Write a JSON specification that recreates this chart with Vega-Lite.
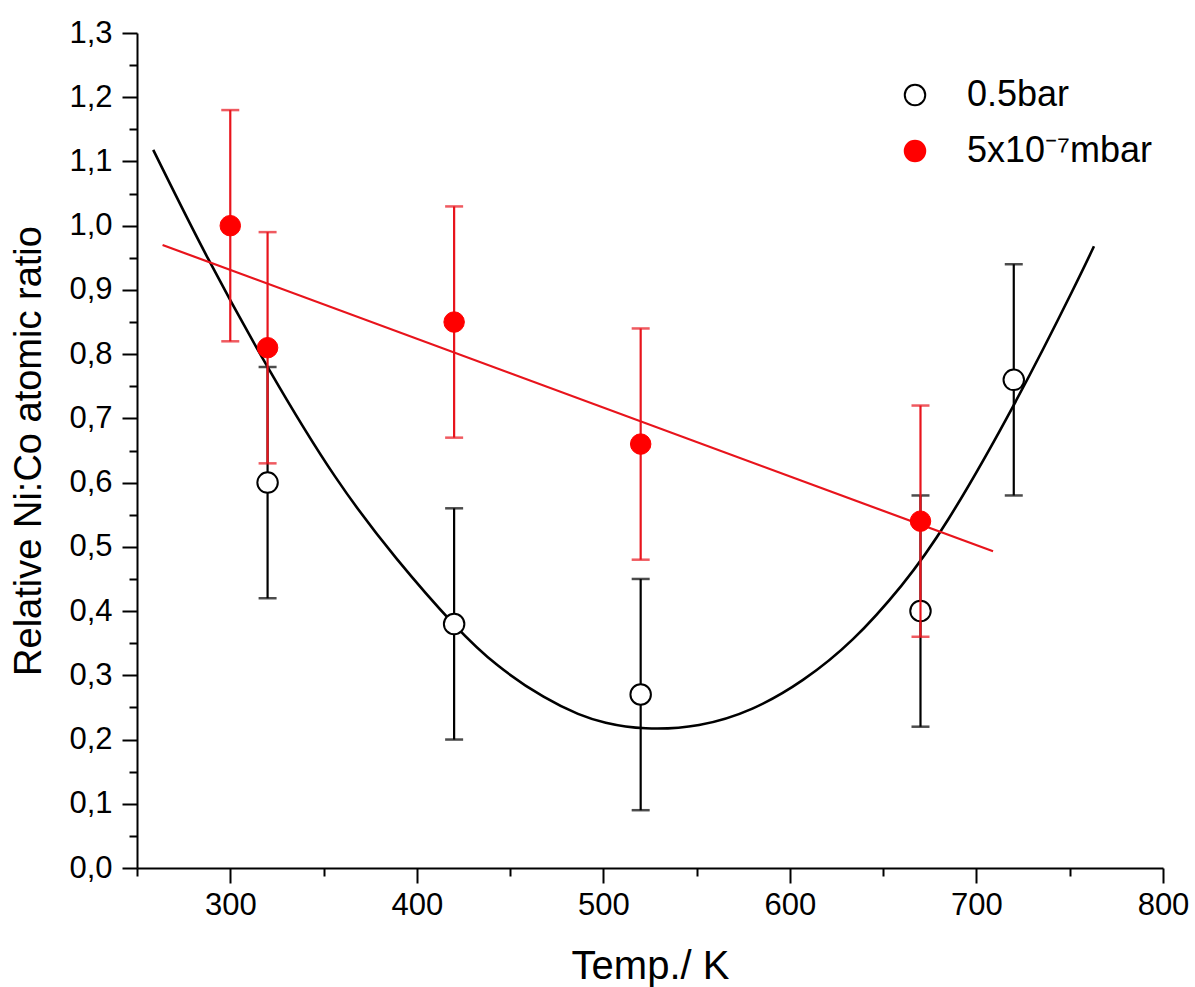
{
  "$schema": "https://vega.github.io/schema/vega-lite/v6.json",
  "width": 1026,
  "height": 835,
  "autosize": {"type": "none"},
  "padding": {"left": 137, "top": 33, "right": 32, "bottom": 119},
  "background": "white",
  "config": {
    "font": "Liberation Sans",
    "view": {"stroke": null},
    "axis": {
      "domainColor": "black", "domainWidth": 2, "tickColor": "black", "tickWidth": 2,
      "labelColor": "black", "titleColor": "black", "labelFont": "Liberation Sans", "titleFont": "Liberation Sans",
      "labelFontSize": 31, "titleFontSize": 38, "titleFontWeight": "normal", "grid": false,
      "labelOverlap": false, "labelFlush": false, "labelBound": false
    }
  },
  "datasets": {
    "points": [
      {"series": "0.5bar", "T": 320, "ratio": 0.60, "lo": 0.42, "hi": 0.78},
      {"series": "0.5bar", "T": 420, "ratio": 0.38, "lo": 0.20, "hi": 0.56},
      {"series": "0.5bar", "T": 520, "ratio": 0.27, "lo": 0.09, "hi": 0.45},
      {"series": "0.5bar", "T": 670, "ratio": 0.40, "lo": 0.22, "hi": 0.58},
      {"series": "0.5bar", "T": 720, "ratio": 0.76, "lo": 0.58, "hi": 0.94},
      {"series": "5x10⁻⁷mbar", "T": 300, "ratio": 1.00, "lo": 0.82, "hi": 1.18},
      {"series": "5x10⁻⁷mbar", "T": 320, "ratio": 0.81, "lo": 0.63, "hi": 0.99},
      {"series": "5x10⁻⁷mbar", "T": 420, "ratio": 0.85, "lo": 0.67, "hi": 1.03},
      {"series": "5x10⁻⁷mbar", "T": 520, "ratio": 0.66, "lo": 0.48, "hi": 0.84},
      {"series": "5x10⁻⁷mbar", "T": 670, "ratio": 0.54, "lo": 0.36, "hi": 0.72}
    ],
    "fitBlack": [
      {"T": 258.7, "ratio": 1.118},
      {"T": 287.3, "ratio": 0.950},
      {"T": 320.3, "ratio": 0.776},
      {"T": 357, "ratio": 0.600},
      {"T": 389, "ratio": 0.480},
      {"T": 421.2, "ratio": 0.373},
      {"T": 442.6, "ratio": 0.314},
      {"T": 469.4, "ratio": 0.262},
      {"T": 487.3, "ratio": 0.238},
      {"T": 499.8, "ratio": 0.226},
      {"T": 521.2, "ratio": 0.215},
      {"T": 551.6, "ratio": 0.219},
      {"T": 580.2, "ratio": 0.245},
      {"T": 607, "ratio": 0.290},
      {"T": 633.8, "ratio": 0.352},
      {"T": 660.6, "ratio": 0.440},
      {"T": 682, "ratio": 0.524},
      {"T": 721.4, "ratio": 0.724},
      {"T": 755.4, "ratio": 0.921},
      {"T": 763, "ratio": 0.968}
    ],
    "fitRed": [
      {"T": 263.7, "ratio": 0.970},
      {"T": 708.9, "ratio": 0.493}
    ]
  },
  "encoding": {
    "x": {
      "field": "T", "type": "quantitative",
      "scale": {"domain": [250, 800], "nice": false, "zero": false},
      "axis": {
        "title": "Temp./ K",
        "titleFontSize": 40,
        "values": [250, 300, 350, 400, 450, 500, 550, 600, 650, 700, 750, 800],
        "labelExpr": "datum.value % 100 === 0 ? format(datum.value, 'd') : ''",
        "tickSize": {"condition": {"test": "datum.value % 100 === 0", "value": 15}, "value": 8},
        "labelPadding": 7,
        "titlePadding": 26
      }
    },
    "y": {
      "field": "ratio", "type": "quantitative",
      "scale": {"domain": [0, 1.3], "nice": false},
      "axis": {
        "title": "Relative Ni:Co atomic ratio",
        "values": [0, 0.05, 0.1, 0.15, 0.2, 0.25, 0.3, 0.35, 0.4, 0.45, 0.5, 0.55, 0.6, 0.65, 0.7, 0.75, 0.8, 0.85, 0.9, 0.95, 1.0, 1.05, 1.1, 1.15, 1.2, 1.25, 1.3],
        "labelExpr": "round(datum.value * 20) % 2 === 0 ? replace(format(datum.value, '.1f'), '.', ',') : ''",
        "tickSize": {"condition": {"test": "round(datum.value * 20) % 2 === 0", "value": 15}, "value": 8},
        "labelPadding": 10,
        "titlePadding": 20
      }
    }
  },
  "layer": [
    {
      "data": {"name": "fitBlack"},
      "mark": {"type": "line", "color": "black", "strokeWidth": 2.6, "interpolate": "basis"}
    },
    {
      "data": {"name": "points"},
      "transform": [{"filter": "datum.series === '0.5bar'"}],
      "mark": {"type": "rule", "color": "black", "strokeWidth": 2.2},
      "encoding": {"y": {"field": "lo", "type": "quantitative"}, "y2": {"field": "hi"}}
    },
    {
      "data": {"name": "points"},
      "transform": [{"filter": "datum.series === '0.5bar'"}],
      "mark": {"type": "tick", "orient": "horizontal", "color": "black", "size": 18, "thickness": 2.5},
      "encoding": {"y": {"field": "lo", "type": "quantitative"}}
    },
    {
      "data": {"name": "points"},
      "transform": [{"filter": "datum.series === '0.5bar'"}],
      "mark": {"type": "tick", "orient": "horizontal", "color": "black", "size": 18, "thickness": 2.5},
      "encoding": {"y": {"field": "hi", "type": "quantitative"}}
    },
    {
      "data": {"name": "points"},
      "transform": [{"filter": "datum.series === '0.5bar'"}],
      "mark": {"type": "point", "shape": "circle", "filled": false, "size": 420, "strokeWidth": 2, "opacity": 1},
      "encoding": {
        "fill": {"field": "series", "type": "nominal",
          "scale": {"domain": ["0.5bar", "5x10⁻⁷mbar"], "range": ["white", "#ff0000"]},
          "legend": {"title": null, "orient": "none", "legendX": 760, "legendY": 44, "symbolType": "circle", "symbolSize": 420, "symbolStrokeWidth": 2, "labelFontSize": 36, "labelFont": "Liberation Sans", "labelColor": "black", "labelOffset": 34, "rowPadding": 20, "labelLimit": 0}},
        "stroke": {"field": "series", "type": "nominal",
          "scale": {"domain": ["0.5bar", "5x10⁻⁷mbar"], "range": ["black", "#ff0000"]},
          "legend": {"title": null, "orient": "none", "legendX": 760, "legendY": 44, "symbolType": "circle", "symbolSize": 420, "symbolStrokeWidth": 2, "labelFontSize": 36, "labelFont": "Liberation Sans", "labelColor": "black", "labelOffset": 34, "rowPadding": 20, "labelLimit": 0}}
      }
    },
    {
      "data": {"name": "fitRed"},
      "mark": {"type": "line", "color": "#e8141c", "strokeWidth": 2.2}
    },
    {
      "data": {"name": "points"},
      "transform": [{"filter": "datum.series !== '0.5bar'"}],
      "mark": {"type": "rule", "color": "#e8141c", "strokeWidth": 2.2},
      "encoding": {"y": {"field": "lo", "type": "quantitative"}, "y2": {"field": "hi"}}
    },
    {
      "data": {"name": "points"},
      "transform": [{"filter": "datum.series !== '0.5bar'"}],
      "mark": {"type": "tick", "orient": "horizontal", "color": "#e8141c", "size": 18, "thickness": 2.5},
      "encoding": {"y": {"field": "lo", "type": "quantitative"}}
    },
    {
      "data": {"name": "points"},
      "transform": [{"filter": "datum.series !== '0.5bar'"}],
      "mark": {"type": "tick", "orient": "horizontal", "color": "#e8141c", "size": 18, "thickness": 2.5},
      "encoding": {"y": {"field": "hi", "type": "quantitative"}}
    },
    {
      "data": {"name": "points"},
      "transform": [{"filter": "datum.series !== '0.5bar'"}],
      "mark": {"type": "point", "shape": "circle", "filled": false, "size": 420, "strokeWidth": 1, "opacity": 1},
      "encoding": {
        "fill": {"field": "series", "type": "nominal"},
        "stroke": {"field": "series", "type": "nominal"}
      }
    }
  ]
}
